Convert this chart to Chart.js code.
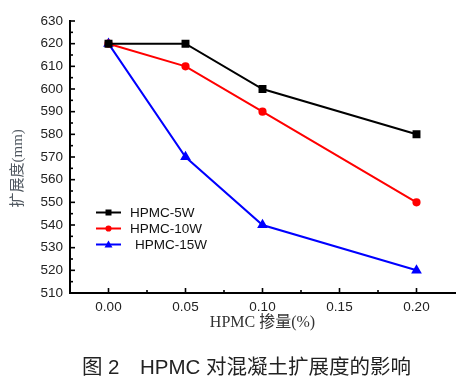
<!DOCTYPE html>
<html>
<head>
<meta charset="utf-8">
<script src="https://cdn.jsdelivr.net/npm/chart.js@4.4.1/dist/chart.umd.min.js"></script>
<style>
html,body{margin:0;padding:0;background:#fff;}
#wrap{position:relative;width:467px;height:385px;}
#caption{position:absolute;left:0;width:467px;top:354px;text-align:center;font-family:"Liberation Sans","Noto Sans CJK SC",sans-serif;font-size:20.5px;color:#222;line-height:26px;white-space:pre;padding-left:26px;box-sizing:border-box;}
</style>
</head>
<body>
<div id="wrap">
<canvas id="c" width="467" height="385"></canvas>
<div id="caption">图 2　HPMC 对混凝土扩展度的影响</div>
</div>
<script>
const dosage = [0.00, 0.05, 0.10, 0.20];
const hpmc5W = [620, 620, 600, 580];
const hpmc10W = [620, 610, 590, 550];
const hpmc15W = [620, 570, 540, 520];
const xTickValues = [0.00, 0.05, 0.10, 0.15, 0.20];
const yTickValues = [510, 520, 530, 540, 550, 560, 570, 580, 590, 600, 610, 620, 630];
const seriesNames = ['HPMC-5W', 'HPMC-10W', 'HPMC-15W'];

const toXY = arr => arr.map((v, i) => ({x: dosage[i], y: v}));

const tickPlugin = {
  id: 'inwardTicks',
  afterDraw(chart) {
    const ctx = chart.ctx, xs = chart.scales.x, ys = chart.scales.y;
    const a = chart.chartArea;
    ctx.save();
    ctx.strokeStyle = '#000';
    ctx.lineWidth = 1.6;
    for (let v = 510; v <= 630; v += 5) {
      const p = ys.getPixelForValue(v);
      const len = (v % 10 === 0) ? 5 : 3;
      ctx.beginPath(); ctx.moveTo(a.left, p); ctx.lineTo(a.left + len, p); ctx.stroke();
    }
    for (let i = -1; i <= 9; i++) {
      const v = i * 0.025;
      const p = xs.getPixelForValue(v);
      if (p < a.left + 2 || p > a.right - 1) continue;
      const len = (i % 2 === 0) ? 5 : 3;
      ctx.beginPath(); ctx.moveTo(p, a.bottom); ctx.lineTo(p, a.bottom - len); ctx.stroke();
    }
    // y axis title
    ctx.fillStyle = '#505860';
    ctx.font = '15px "Liberation Serif","Noto Sans CJK SC",serif';
    ctx.textAlign = 'center';
    ctx.textBaseline = 'middle';
    ctx.translate(18, ys.getPixelForValue(565));
    ctx.rotate(-Math.PI / 2);
    ctx.fillText('扩展度(mm)', 0, 0);
    ctx.restore();

    // legend
    ctx.save();
    const rows = [212.5, 228.5, 244.5];
    chart.data.datasets.forEach((ds, i) => {
      const y = rows[i];
      ctx.strokeStyle = ds.borderColor;
      ctx.fillStyle = ds.borderColor;
      ctx.lineWidth = 2;
      ctx.beginPath(); ctx.moveTo(96, y); ctx.lineTo(121, y); ctx.stroke();
      const cx = 108.5;
      ctx.beginPath();
      if (ds.pointStyle === 'rect') {
        ctx.rect(cx - 3, y - 3, 6, 6);
      } else if (ds.pointStyle === 'circle') {
        ctx.arc(cx, y, 3.1, 0, Math.PI * 2);
      } else {
        ctx.moveTo(cx, y - 4); ctx.lineTo(cx + 4, y + 3); ctx.lineTo(cx - 4, y + 3); ctx.closePath();
      }
      ctx.fill();
      ctx.fillStyle = '#111';
      ctx.font = '13.5px "Liberation Sans",Arial,sans-serif';
      ctx.textAlign = 'left';
      ctx.textBaseline = 'middle';
      ctx.fillText(ds.label, i === 2 ? 135 : 130, y + 0.5);
    });
    ctx.restore();
  }
};

new Chart(document.getElementById('c'), {
  type: 'line',
  data: {
    datasets: [
      {label: seriesNames[0], data: toXY(hpmc5W), borderColor: '#000000', backgroundColor: '#000000', pointStyle: 'rect', pointRadius: 4.2, borderWidth: 2},
      {label: seriesNames[1], data: toXY(hpmc10W), borderColor: '#ff0000', backgroundColor: '#ff0000', pointStyle: 'circle', pointRadius: 3.1, borderWidth: 2},
      {label: seriesNames[2], data: toXY(hpmc15W), borderColor: '#0000ff', backgroundColor: '#0000ff', pointStyle: 'triangle', pointRadius: 4.2, borderWidth: 2}
    ]
  },
  options: {
    responsive: false,
    animation: false,
    events: [],
    layout: {padding: {left: 0, top: 21, right: 12, bottom: 50}},
    plugins: {legend: {display: false}, tooltip: {enabled: false}},
    elements: {line: {tension: 0}, point: {borderWidth: 0}},
    scales: {
      x: {
        type: 'linear',
        min: -0.025, max: 0.225,
        afterBuildTicks: s => { s.ticks = xTickValues.map(v => ({value: v})); },
        afterFit: s => { s.height = 42; },
        grid: {display: true, drawOnChartArea: false, drawTicks: false},
        border: {display: true, color: '#000', width: 2},
        ticks: {padding: 6, color: '#222', font: {family: '"Liberation Sans",Arial,sans-serif', size: 13.5}, callback: v => Number(v).toFixed(2), maxRotation: 0, autoSkip: false},
        title: {display: true, text: 'HPMC 掺量(%)', color: '#333', font: {family: '"Liberation Serif","Noto Sans CJK SC",serif', size: 16}, padding: {top: 0, bottom: 3}}
      },
      y: {
        type: 'linear',
        min: 510, max: 630,
        afterBuildTicks: s => { s.ticks = yTickValues.map(v => ({value: v})); },
        afterFit: s => { s.width = 70; },
        grid: {display: true, drawOnChartArea: false, drawTicks: false},
        border: {display: true, color: '#000', width: 2},
        ticks: {padding: 7, color: '#222', font: {family: '"Liberation Sans",Arial,sans-serif', size: 13.5}, autoSkip: false}
      }
    }
  },
  plugins: [tickPlugin]
});
</script>
</body>
</html>
